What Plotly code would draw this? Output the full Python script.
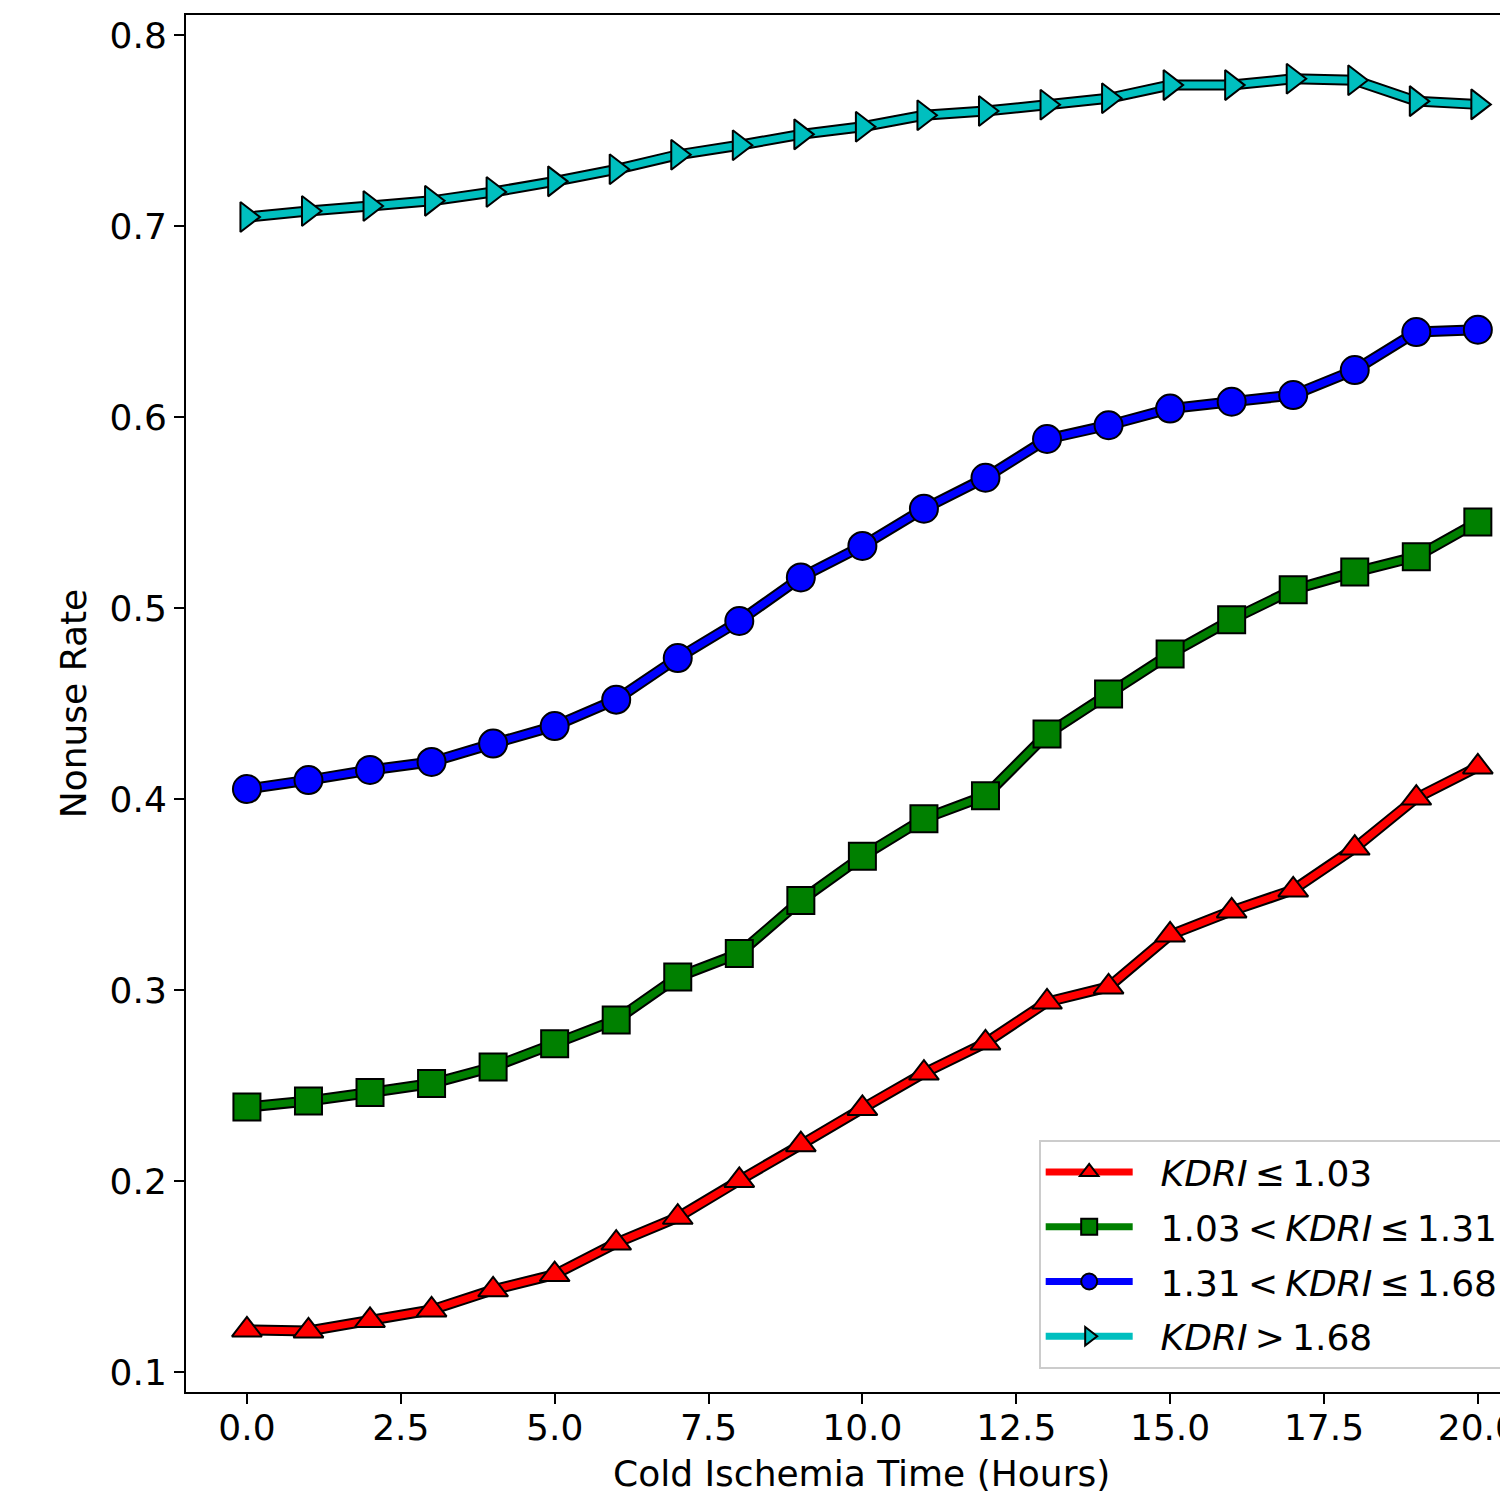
import plotly.graph_objects as go

# ---- data ----
hours = list(range(0, 21))

kdri_low = [0.122, 0.1215, 0.127, 0.1325, 0.143, 0.151, 0.1675, 0.181, 0.2003, 0.219,
            0.238, 0.2565, 0.2723, 0.2937, 0.3016, 0.3288, 0.3414, 0.3524, 0.3743, 0.4005, 0.4168]
kdri_mid_low = [0.2387, 0.2419, 0.2463, 0.251, 0.2597, 0.2719, 0.2843, 0.3068, 0.3191, 0.3469,
                0.3700, 0.3897, 0.4017, 0.434, 0.455, 0.4759, 0.4939, 0.5096, 0.5188, 0.5269, 0.545]
kdri_mid_high = [0.4052, 0.4099, 0.4152, 0.4194, 0.429, 0.4382, 0.452, 0.4738, 0.4932, 0.5160,
                 0.5325, 0.552, 0.5682, 0.5885, 0.5957, 0.6044, 0.608, 0.6115, 0.6246, 0.6445, 0.6457]
kdri_high = [0.7047, 0.7079, 0.7105, 0.7132, 0.7178, 0.7234, 0.7297, 0.7373, 0.7423, 0.748,
             0.752, 0.758, 0.7602, 0.7635, 0.7669, 0.7738, 0.7738, 0.7771, 0.7763, 0.7654, 0.7637]

TS = "\u2009"  # thin space, like mathtext spacing around relations
series_names = [
    f"<i>KDRI</i>{TS}≤{TS}1.03",
    f"1.03{TS}&lt;{TS}<i>KDRI</i>{TS}≤{TS}1.31",
    f"1.31{TS}&lt;{TS}<i>KDRI</i>{TS}≤{TS}1.68",
    f"<i>KDRI</i>{TS}&gt;{TS}1.68",
]
series_values = [kdri_low, kdri_mid_low, kdri_mid_high, kdri_high]

x_title = "Cold Ischemia Time (Hours)"
y_title = "Nonuse Rate"

# ---- styles ----
colors = ["#ff0000", "#008000", "#0000ff", "#00bfbf"]
symbols = ["triangle-up", "square", "circle", "triangle-right"]
sizes = [26, 27, 28, 26]
FONT = "DejaVu Sans"
GAP = "\u00a0\u00a0"

fig = go.Figure()
for i, (name, vals, col, sym, sz) in enumerate(zip(series_names, series_values, colors, symbols, sizes)):
    # black outline under the coloured line
    fig.add_trace(go.Scatter(
        x=hours, y=vals, mode="lines",
        line=dict(color="black", width=11, simplify=False),
        showlegend=False, hoverinfo="skip", legendgroup=f"g{i}",
    ))
    fig.add_trace(go.Scatter(
        x=hours, y=vals, mode="lines+markers", name=GAP + name,
        legendgroup=f"g{i}",
        line=dict(color=col, width=7, simplify=False),
        marker=dict(symbol=sym, size=sz, color=col,
                    line=dict(color="black", width=2)),
    ))

fig.update_layout(
    width=1500, height=1486,
    margin=dict(l=178, r=0, t=7, b=102, autoexpand=False),
    paper_bgcolor="white", plot_bgcolor="white",
    font=dict(family=FONT, size=36, color="black"),
    showlegend=True,
    legend=dict(
        x=0.645, xanchor="left", y=0.183, yanchor="top",
        bgcolor="rgba(255,255,255,0.8)", bordercolor="#cccccc", borderwidth=2,
        font=dict(family=FONT, size=36, color="black"),
        itemwidth=87, tracegroupgap=5,
    ),
)

# x-axis title (centred on the full, partly clipped axes as in the reference)
fig.add_annotation(
    text=x_title, xref="paper", yref="paper", x=0.5113, y=-0.0595,
    xanchor="center", yanchor="middle", showarrow=False,
    font=dict(family=FONT, size=36, color="black"),
)

fig.update_xaxes(
    range=[-0.99, 20.49], dtick=2.5, tick0=0, tickformat=".1f",
    showgrid=False, zeroline=False,
    showline=True, linecolor="black", linewidth=2, mirror=True,
    ticks="outside", ticklen=10, tickwidth=2, tickcolor="black",
    tickfont=dict(family=FONT, size=36),
    ticklabeloverflow="allow", ticklabelstandoff=-7,
)
fig.update_yaxes(
    range=[0.0895, 0.8105], dtick=0.1, tick0=0, tickformat=".1f",
    showgrid=False, zeroline=False,
    showline=True, linecolor="black", linewidth=2, mirror=False,
    ticks="outside", ticklen=10, tickwidth=2, tickcolor="black",
    tickfont=dict(family=FONT, size=36),
    title=dict(text=y_title, font=dict(family=FONT, size=36), standoff=12),
)

fig.write_html("out.html")
